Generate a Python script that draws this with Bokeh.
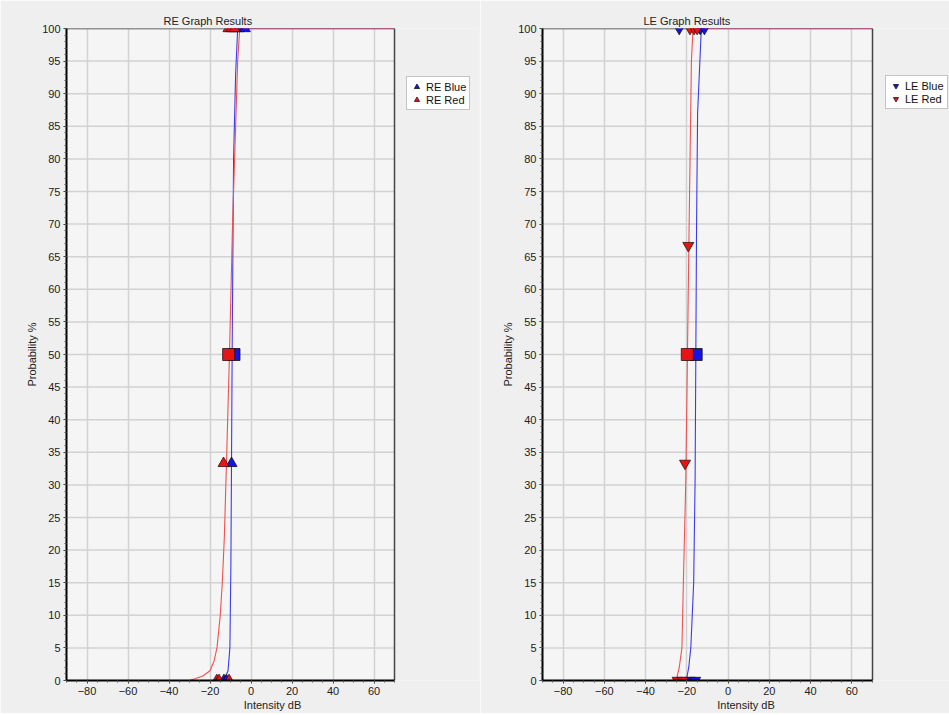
from bokeh.plotting import figure
from bokeh.layouts import row
from bokeh.models import Legend, LegendItem, FixedTicker, Range1d
from bokeh.embed import file_html
from bokeh.resources import INLINE

# ---------------- data ----------------
x_limits = [-90, 70]
y_limits = [0, 100]
x_ticks = [-80, -60, -40, -20, 0, 20, 40, 60]
y_ticks = list(range(0, 101, 5))

# RE fitted curves
re_red_curve_x = [-90, -30, -27, -23.5, -20, -18, -16.6, -15, -14, -13, -12, -10.5, -9, -7.5, -6.5, -5.5, 70]
re_red_curve_y = [0, 0, 0.3, 0.7, 1.5, 3, 5, 10, 15, 22, 33, 50, 70, 85, 95, 100, 100]
re_blue_curve_x = [-90, -14, -12.5, -11.2, -10.3, -9.8, -9.2, -8.5, -7.5, -6.5, 70]
re_blue_curve_y = [0, 0, 0.5, 1.5, 5, 18, 50, 80, 93, 100, 100]

# RE responses
re_blue_x = [-13.2, -12.0, -9.5, -6.0, -3.0]
re_blue_y = [0, 0, 33.3, 100, 100]
re_red_x = [-16.7, -15.6, -10.7, -13.4, -11.0, -9.5, -8.0]
re_red_y = [0, 0, 0, 33.3, 100, 100, 100]
re_threshold_x = [-8.3, -10.9]          # blue, red
re_threshold_y = [50, 50]

# LE fitted curves
le_red_curve_x = [-90, -25.5, -24.8, -23.7, -22.4, -21.7, -20.5, -18.9, -17.8, -17, 70]
le_red_curve_y = [0, 0, 0.5, 2, 5, 15, 31, 70, 95, 100, 100]
le_blue_curve_x = [-90, -20.5, -20, -19.1, -18.1, -16.7, -16, -15.3, -14.8, -13, 70]
le_blue_curve_y = [0, 0, 0.5, 2, 5, 15, 31, 70, 87, 100, 100]

# LE responses
le_blue_x = [-18.5, -16.0, -23.7, -13.5, -11.5]
le_blue_y = [0, 0, 100, 100, 100]
le_red_x = [-24.5, -22.0, -20.9, -19.3, -18.5, -16.5, -15.0]
le_red_y = [0, 0, 33.3, 66.7, 100, 100, 100]
le_threshold_x = [-15.5, -19.8]          # blue, red
le_threshold_y = [50, 50]

FONT = "Liberation Sans"
BLUE_LINE = "#3a3af0"
RED_LINE = "#f05050"
BLUE_FILL = "#1414e6"
RED_FILL = "#e61414"
BORDER = "#efefef"
PLOTBG = "#f5f5f5"
GRID = "#d2d2d2"


def make_panel(title, title_off, width, height, bl, br, bt, bb, area_px, eye,
               blue_curve, red_curve, blue_pts, red_pts, thr, marker, leg_loc):
    # the frame is wider than the plotted area so the legend can sit inside it
    frame_w = width - bl - br
    x_end = x_limits[0] + (x_limits[1] - x_limits[0]) * frame_w / area_px
    p = figure(width=width, height=height, output_backend="svg", toolbar_location=None,
               x_range=Range1d(x_limits[0], x_end), y_range=Range1d(*y_limits),
               min_border_left=bl, min_border_right=br, min_border_top=bt,
               min_border_bottom=bb)
    p.border_fill_color = BORDER
    p.background_fill_color = BORDER
    p.outline_line_color = None

    p.title.text = title
    p.title.align = "left"
    p.title.offset = title_off
    p.title.text_font = FONT
    p.title.text_font_size = "11px"
    p.title.text_font_style = "normal"
    p.title.text_color = "#222222"
    p.title.standoff = 4

    for ax in (p.xaxis[0], p.yaxis[0]):
        ax.axis_line_color = "black"
        ax.axis_line_width = 2
        ax.major_tick_in = 0
        ax.major_tick_out = 3
        ax.minor_tick_in = 0
        ax.minor_tick_out = 2
        ax.major_tick_line_color = "#333333"
        ax.minor_tick_line_color = "#555555"
        ax.major_label_text_font = FONT
        ax.major_label_text_font_size = "11px"
        ax.major_label_text_color = "#222222"
        ax.axis_label_text_font = FONT
        ax.axis_label_text_font_size = "11px"
        ax.axis_label_text_font_style = "normal"
        ax.axis_label_text_color = "#222222"
        ax.major_label_standoff = 3
        ax.axis_label_standoff = 1

    p.xaxis[0].bounds = tuple(x_limits)
    p.xaxis[0].ticker = FixedTicker(ticks=x_ticks,
                                    minor_ticks=list(range(x_limits[0], x_limits[1] + 1, 5)))
    p.yaxis[0].ticker = FixedTicker(ticks=y_ticks, minor_ticks=list(range(0, 101, 1)))
    p.xaxis.axis_label = "Intensity dB"
    p.yaxis.axis_label = "Probability %"

    # plot area background, grid and outline
    p.quad(left=[x_limits[0]], right=[x_limits[1]], bottom=[y_limits[0]], top=[y_limits[1]],
           fill_color=PLOTBG, line_color=None, level="image")
    p.xgrid.grid_line_color = GRID
    p.xgrid.grid_line_width = 1.5
    p.ygrid.grid_line_color = None
    p.segment(x0=[x_limits[0]] * len(y_ticks), y0=y_ticks,
              x1=[x_limits[1]] * len(y_ticks), y1=y_ticks,
              line_color=GRID, line_width=1.5, level="underlay")
    p.line([x_limits[0], x_limits[1], x_limits[1]], [y_limits[1], y_limits[1], y_limits[0]],
           line_color="#444444", line_width=1.5)

    p.line(blue_curve[0], blue_curve[1], line_color=BLUE_LINE, line_width=1.1)
    p.line(red_curve[0], red_curve[1], line_color=RED_LINE, line_width=1.1)

    rb = p.scatter(blue_pts[0], blue_pts[1], marker=marker, size=11,
                   fill_color=BLUE_FILL, line_color="#101010", line_width=0.8)
    rr = p.scatter(red_pts[0], red_pts[1], marker=marker, size=11,
                   fill_color=RED_FILL, line_color="#301010", line_width=0.8)
    p.scatter([thr[0][0]], [thr[1][0]], marker="square", size=12,
              fill_color=BLUE_FILL, line_color="#101010", line_width=0.8)
    p.scatter([thr[0][1]], [thr[1][1]], marker="square", size=12,
              fill_color=RED_FILL, line_color="#301010", line_width=0.8)

    leg = Legend(items=[LegendItem(label=eye + " Blue", renderers=[rb]),
                        LegendItem(label=eye + " Red", renderers=[rr])],
                 location=leg_loc)
    leg.label_text_font = FONT
    leg.label_text_font_size = "11px"
    leg.label_text_color = "#111111"
    leg.label_height = 13
    leg.glyph_height = 13
    leg.glyph_width = 13
    leg.spacing = 0
    leg.padding = 3
    leg.margin = 0
    leg.label_standoff = 3
    leg.border_line_color = "#8a8a8a"
    leg.background_fill_color = "white"
    leg.background_fill_alpha = 1
    p.add_layout(leg, "center")
    return p


left = make_panel("RE Graph Results", 97, 480, 713, 66, 2, 26, 33, 328, "RE",
                  (re_blue_curve_x, re_blue_curve_y), (re_red_curve_x, re_red_curve_y),
                  (re_blue_x, re_blue_y), (re_red_x, re_red_y),
                  (re_threshold_x, re_threshold_y), "triangle", (340, 570))
right = make_panel("LE Graph Results", 101, 469, 713, 62, 0, 28, 33, 330, "LE",
                   (le_blue_curve_x, le_blue_curve_y), (le_red_curve_x, le_red_curve_y),
                   (le_blue_x, le_blue_y), (le_red_x, le_red_y),
                   (le_threshold_x, le_threshold_y), "inverted_triangle", (343, 571))

layout = row(left, right)
open("out.html", "w").write(file_html(layout, INLINE))
